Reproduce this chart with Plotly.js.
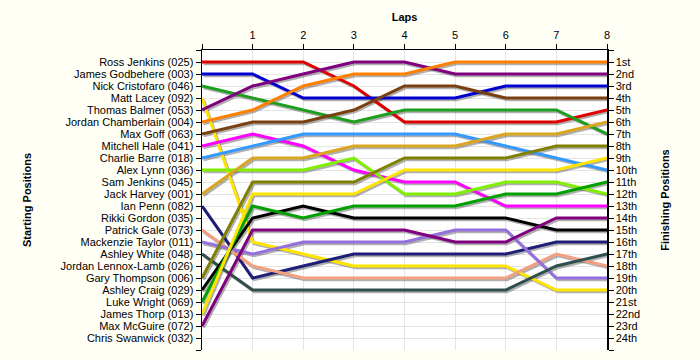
<!DOCTYPE html>
<html>
<head>
<meta charset="utf-8">
<script src="https://cdn.plot.ly/plotly-3.0.1.min.js"></script>
<style>html,body{margin:0;padding:0;background:#FFFFF5;}</style>
</head>
<body>
<div id="chart" style="width:700px;height:360px;"></div>
<script>
// Starting grid (position 1..24)
const startingNames = [
  "Ross Jenkins (025)", "James Godbehere (003)", "Nick Cristofaro (046)", "Matt Lacey (092)",
  "Thomas Balmer (053)", "Jordan Chamberlain (004)", "Max Goff (063)", "Mitchell Hale (041)",
  "Charlie Barre (018)", "Alex Lynn (036)", "Sam Jenkins (045)", "Jack Harvey (001)",
  "Ian Penn (082)", "Rikki Gordon (035)", "Patrick Gale (073)", "Mackenzie Taylor (011)",
  "Ashley White (048)", "Jordan Lennox-Lamb (026)", "Gary Thompson (006)", "Ashley Craig (029)",
  "Luke Wright (069)", "James Thorp (013)", "Max McGuire (072)", "Chris Swanwick (032)"
];
const finishLabels = ["1st","2nd","3rd","4th","5th","6th","7th","8th","9th","10th","11th","12th",
  "13th","14th","15th","16th","17th","18th","19th","20th","21st","22nd","23rd","24th"];
const laps = [0, 1, 2, 3, 4, 5, 6, 7, 8];
const lapLabels = ["", "1", "2", "3", "4", "5", "6", "7", "8"];

// Positions per lap (lap 0 = grid)
const rossJenkins        = [1, 1, 1, 3, 6, 6, 6, 6, 5];
const jamesGodbehere     = [2, 2, 4, 4, 4, 4, 3, 3, 3];
const nickCristofaro     = [3, 4, 5, 6, 5, 5, 5, 5, 7];
const mattLacey          = [4, 16, 17, 18, 18, 18, 18, 20, 20];
const thomasBalmer       = [5, 3, 2, 1, 1, 2, 2, 2, 2];
const jordanChamberlain  = [6, 5, 3, 2, 2, 1, 1, 1, 1];
const maxGoff            = [7, 6, 6, 5, 3, 3, 4, 4, 4];
const mitchellHale       = [8, 7, 8, 10, 11, 11, 13, 13, 13];
const charlieBarre       = [9, 8, 7, 7, 7, 7, 8, 9, 10];
const alexLynn           = [10, 10, 10, 9, 12, 12, 11, 11, 12];
const jackHarvey         = [12, 9, 9, 8, 8, 8, 7, 7, 6];
const ianPenn            = [13, 19, 18, 17, 17, 17, 17, 16, 16];
const patrickGale        = [15, 18, 19, 19, 19, 19, 19, 17, 18];
const mackenzieTaylor    = [16, 17, 16, 16, 16, 15, 15, 19, 19];
const ashleyWhite        = [17, 20, 20, 20, 20, 20, 20, 18, 17];
const garyThompson       = [19, 11, 11, 11, 9, 9, 9, 8, 8];
const ashleyCraig        = [20, 14, 13, 14, 14, 14, 14, 15, 15];
const lukeWright         = [21, 13, 14, 13, 13, 13, 12, 12, 11];
const jamesThorp         = [22, 12, 12, 12, 10, 10, 10, 10, 9];
const maxMcGuire         = [23, 15, 15, 15, 15, 16, 16, 14, 14];

const drivers = [
  ["Ross Jenkins (025)", rossJenkins, "#E00000"],
  ["James Godbehere (003)", jamesGodbehere, "#0000D0"],
  ["Nick Cristofaro (046)", nickCristofaro, "#1E9E1E"],
  ["Matt Lacey (092)", mattLacey, "#FFE400"],
  ["Thomas Balmer (053)", thomasBalmer, "#800080"],
  ["Jordan Chamberlain (004)", jordanChamberlain, "#FF8000"],
  ["Max Goff (063)", maxGoff, "#7A4010"],
  ["Mitchell Hale (041)", mitchellHale, "#FF00FF"],
  ["Charlie Barre (018)", charlieBarre, "#3399FF"],
  ["Alex Lynn (036)", alexLynn, "#80F000"],
  ["Jack Harvey (001)", jackHarvey, "#DAA520"],
  ["Ian Penn (082)", ianPenn, "#1E1E78"],
  ["Patrick Gale (073)", patrickGale, "#F4A080"],
  ["Mackenzie Taylor (011)", mackenzieTaylor, "#9370DB"],
  ["Ashley White (048)", ashleyWhite, "#2F4F4F"],
  ["Gary Thompson (006)", garyThompson, "#808000"],
  ["Ashley Craig (029)", ashleyCraig, "#000000"],
  ["Luke Wright (069)", lukeWright, "#00A000"],
  ["James Thorp (013)", jamesThorp, "#FFE400"],
  ["Max McGuire (072)", maxMcGuire, "#800080"]
];

const FONT = "Liberation Sans, Arial, sans-serif";
const traces = [];
// soft drop shadows under each line
drivers.forEach(d => {
  traces.push({
    x: laps.map(v => v + 0.03), y: d[1].map(v => v + 0.14),
    mode: "lines", line: {color: "rgba(80,80,80,0.45)", width: 3},
    hoverinfo: "skip", showlegend: false, xaxis: "x", yaxis: "y"
  });
});
drivers.forEach(d => {
  traces.push({
    x: laps, y: d[1], name: d[0],
    mode: "lines", line: {color: d[2], width: 3},
    showlegend: false, xaxis: "x", yaxis: "y"
  });
});
// invisible trace to anchor right axis
traces.push({x: [0], y: [1], mode: "markers", marker: {opacity: 0}, hoverinfo: "skip",
  showlegend: false, xaxis: "x", yaxis: "y2"});

const posVals = Array.from({length: 26}, (_, i) => i);
const leftText = [""].concat(startingNames, [""]);
const rightText = [""].concat(finishLabels, [""]);

const layout = {
  width: 700, height: 360,
  margin: {l: 202, r: 93, t: 50, b: 10, pad: 0},
  paper_bgcolor: "#FFFFF5",
  plot_bgcolor: "#FFFFFF",
  font: {family: FONT, size: 11, color: "#000"},
  showlegend: false,
  xaxis: {
    side: "top", range: [0, 8], tickmode: "array", tickvals: laps, ticktext: lapLabels,
    ticks: "outside", ticklen: 5, tickcolor: "#000", showline: true, linecolor: "#000", linewidth: 1.5,
    showgrid: true, gridcolor: "#E4E4E4", zeroline: false, fixedrange: true,
    tickfont: {family: FONT, size: 11, color: "#000"},
    title: {text: "<b>Laps</b>", font: {family: FONT, size: 11, color: "#000"}, standoff: 5},
    automargin: false
  },
  yaxis: {
    range: [25, 0], tickmode: "array", tickvals: posVals, ticktext: leftText,
    ticks: "outside", ticklen: 5, tickcolor: "#000", showline: true, linecolor: "#000", linewidth: 1.5,
    showgrid: true, gridcolor: "#E4E4E4", zeroline: false,
    tickfont: {family: FONT, size: 11, color: "#000"},
    title: {text: "<b>Starting Positions</b>", font: {family: FONT, size: 11, color: "#000"}, standoff: 26},
    automargin: false
  },
  yaxis2: {
    overlaying: "y", side: "right", anchor: "x",
    range: [25, 0], tickmode: "array", tickvals: posVals, ticktext: rightText,
    ticks: "outside", ticklen: 5, tickcolor: "#000", showline: true, linecolor: "#000", linewidth: 1.5,
    showgrid: false, zeroline: false,
    tickfont: {family: FONT, size: 11, color: "#000"},
    title: {text: "<b>Finishing Positions</b>", font: {family: FONT, size: 11, color: "#000"}, standoff: 22},
    automargin: false
  }
};

Plotly.newPlot("chart", traces, layout, {displayModeBar: false, staticPlot: true});
</script>
</body>
</html>
